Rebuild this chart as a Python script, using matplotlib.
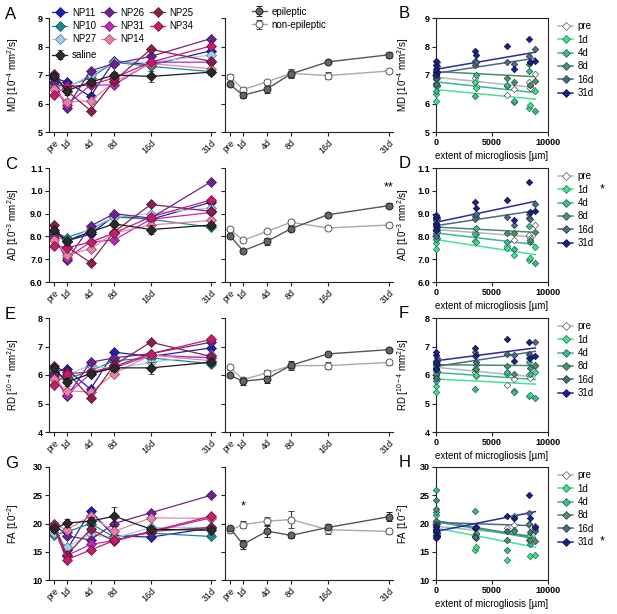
import numpy as np
import matplotlib
matplotlib.use('Agg')
import matplotlib.pyplot as plt
import matplotlib.colors as mcolors
from matplotlib.lines import Line2D

plt.rcParams['font.family'] = ['Liberation Sans', 'DejaVu Sans']
plt.rcParams['mathtext.fontset'] = 'custom'
plt.rcParams['mathtext.rm'] = 'Liberation Sans'
plt.rcParams['mathtext.it'] = 'Liberation Sans:italic'
plt.rcParams['mathtext.bf'] = 'Liberation Sans:bold'

# ---- data -------------------------------------------------------------
timepoints = ['pre', '1d', '4d', '8d', '16d', '31d']
time_pos = [0, 13, 37, 61, 98, 159]   # spacing of the time axis as in the figure

animals = ['NP11', 'NP10', 'NP27', 'NP26', 'NP31', 'NP14', 'NP25', 'NP34']
animal_colors = ['#2020b0', '#1d8a8f', '#a3cbea', '#6b2390',
                 '#b52bb8', '#ea80a8', '#8a1f4f', '#c41d6c']
extent_um = [3450, 100, 3600, 8280, 8430, 6970, 8870, 6300]

# MD [10^-4 mm2/s]
md_animals = [[6.90, 6.75, 6.25, 7.50, 7.35, 7.85],
              [6.65, 6.60, 6.90, 7.45, 7.30, 7.12],
              [6.60, 6.55, 7.00, 7.45, 7.45, 7.70],
              [6.75, 5.85, 7.15, 7.40, 7.65, 8.28],
              [6.55, 5.95, 6.65, 6.65, 7.45, 7.45],
              [6.50, 6.05, 6.10, 6.75, 7.40, 7.22],
              [7.05, 6.45, 5.75, 6.80, 7.90, 7.48],
              [6.30, 6.60, 6.65, 6.90, 7.45, 8.02]]
md_saline = [6.95, 6.45, 6.75, 7.00, 6.95, 7.10]
md_saline_err = [0.10, 0.15, 0.10, 0.10, 0.20, 0.10]
md_saline_indiv = [[7.10, 6.95, 6.85, 6.70], [6.10, 6.35, 6.60, 6.70],
                   [6.45, 6.70, 6.85, 6.95], [6.90, 7.00, 7.10, 7.05],
                   [6.70, 6.90, 7.15, 7.05], [7.00, 7.20, 7.35, 7.50]]
md_epi = [6.67, 6.29, 6.51, 7.04, 7.46, 7.71]
md_epi_err = [0.07, 0.10, 0.15, 0.10, 0.07, 0.10]
md_non = [6.94, 6.49, 6.76, 7.06, 6.98, 7.14]
md_non_err = [0.08, 0.08, 0.08, 0.15, 0.12, 0.07]
md_fit_start = [6.92, 6.49, 6.76, 7.12, 7.06, 7.20]
md_fit_end = [6.56, 6.15, 6.38, 6.94, 7.59, 7.80]

# AD [10^-3 mm2/s] (axis labelled 6.0 ... 9.0, 1.0, 1.1)
ad_animals = [[8.20, 7.80, 8.10, 8.90, 8.75, 9.50],
              [8.20, 7.95, 8.30, 8.85, 8.75, 8.40],
              [8.10, 7.75, 8.35, 8.85, 9.00, 9.25],
              [8.05, 6.95, 8.45, 9.00, 8.80, 10.40],
              [7.95, 7.05, 7.75, 7.85, 8.75, 9.05],
              [7.85, 7.20, 7.45, 8.15, 8.50, 8.70],
              [8.50, 7.55, 6.85, 8.20, 9.40, 9.10],
              [7.60, 7.50, 7.75, 8.15, 8.85, 9.60]]
ad_saline = [8.30, 7.80, 8.20, 8.55, 8.30, 8.50]
ad_saline_err = [0.10, 0.10, 0.10, 0.12, 0.20, 0.10]
ad_saline_indiv = [[8.00, 8.30, 8.55, 8.40], [7.45, 7.70, 7.90, 8.05],
                   [7.90, 8.15, 8.30, 8.45], [8.30, 8.50, 8.70, 8.75],
                   [8.00, 8.30, 8.60, 8.80], [8.30, 8.55, 8.85, 8.95]]
ad_epi = [8.03, 7.37, 7.78, 8.34, 8.95, 9.35]
ad_epi_err = [0.08, 0.08, 0.15, 0.12, 0.08, 0.12]
ad_non = [8.32, 7.83, 8.22, 8.62, 8.37, 8.50]
ad_non_err = [0.10, 0.08, 0.08, 0.10, 0.10, 0.05]
ad_fit_start = [8.30, 7.86, 8.15, 8.41, 8.47, 8.62]
ad_fit_end = [7.97, 7.20, 7.64, 8.18, 9.13, 9.54]

# RD [10^-4 mm2/s]
rd_animals = [[6.10, 6.20, 5.50, 6.80, 6.65, 6.95],
              [6.10, 5.85, 6.15, 6.50, 6.60, 6.40],
              [5.95, 6.00, 6.35, 6.20, 6.45, 6.70],
              [6.00, 5.25, 6.45, 6.60, 6.75, 7.15],
              [5.90, 5.30, 6.05, 6.25, 6.70, 6.60],
              [5.85, 5.45, 5.40, 6.05, 6.70, 6.50],
              [6.30, 6.10, 5.20, 6.35, 7.15, 6.65],
              [5.65, 6.05, 6.10, 6.30, 6.75, 7.25]]
rd_saline = [6.25, 5.75, 6.05, 6.25, 6.25, 6.45]
rd_saline_err = [0.10, 0.15, 0.10, 0.10, 0.20, 0.10]
rd_saline_indiv = [[6.00, 6.25, 6.40, 6.35], [5.40, 5.60, 5.90, 6.00],
                   [5.80, 6.00, 6.15, 6.25], [6.05, 6.25, 6.40, 6.35],
                   [5.90, 6.20, 6.50, 6.45], [6.20, 6.45, 6.70, 6.80]]
rd_epi = [5.99, 5.78, 5.87, 6.34, 6.74, 6.89]
rd_epi_err = [0.05, 0.12, 0.15, 0.15, 0.08, 0.07]
rd_non = [6.27, 5.84, 6.07, 6.33, 6.33, 6.44]
rd_non_err = [0.08, 0.10, 0.10, 0.10, 0.12, 0.08]
rd_fit_start = [6.27, 5.86, 6.09, 6.36, 6.30, 6.50]
rd_fit_end = [5.93, 5.68, 5.84, 6.33, 6.83, 6.95]

# FA [10^-2]
fa_animals = [[19.2, 15.3, 22.2, 17.8, 17.6, 19.2],
              [18.0, 18.5, 20.0, 17.6, 18.3, 17.7],
              [18.3, 15.8, 18.1, 17.4, 19.3, 19.3],
              [20.0, 17.8, 17.1, 20.0, 21.9, 25.0],
              [19.6, 14.3, 16.3, 17.0, 18.5, 21.0],
              [19.8, 18.9, 21.3, 18.6, 21.0, 20.9],
              [19.5, 14.4, 19.0, 16.9, 18.6, 19.3],
              [19.2, 13.6, 15.3, 17.0, 18.6, 21.3]]
fa_saline = [19.0, 20.1, 20.4, 21.3, 19.0, 18.8]
fa_saline_err = [0.5, 0.7, 0.7, 1.7, 0.6, 0.4]
fa_saline_indiv = [[18.5, 19.0, 19.5, 18.9], [19.0, 20.2, 21.5, 20.0],
                   [18.8, 20.4, 22.0, 26.0], [18.0, 20.5, 24.2, 22.5],
                   [17.8, 18.9, 20.0, 19.3], [17.5, 18.5, 19.6, 18.9]]
fa_epi = [19.2, 16.3, 18.65, 17.9, 19.3, 21.2]
fa_epi_err = [0.4, 0.8, 1.0, 0.4, 0.6, 0.8]
fa_non = [18.8, 19.8, 20.4, 20.7, 18.9, 18.6]
fa_non_err = [0.4, 0.6, 0.8, 1.5, 0.7, 0.5]
fa_fit_start = [19.5, 19.2, 20.3, 20.5, 20.2, 18.6]
fa_fit_end = [17.8, 15.8, 17.3, 17.5, 19.6, 22.1]

time_fill = ['white', '#3fe090', '#3fb79a', '#4f8f70', '#4a6d85', '#1c1f8c']
time_line = ['#b5b5b5', '#45e295', '#3ab59a', '#4a8a70', '#4a6b80', '#2a2aa0']

rows = [
    dict(letters=('A', 'B'), label='MD [10$^{-4}$ mm$^{2}$/s]', ylim=(5, 9),
         yticks=[5, 6, 7, 8, 9], yticklabels=['5', '6', '7', '8', '9'],
         animals=md_animals, saline=md_saline, saline_err=md_saline_err,
         indiv=md_saline_indiv, epi=md_epi, epi_err=md_epi_err,
         non=md_non, non_err=md_non_err, fs=md_fit_start, fe=md_fit_end),
    dict(letters=('C', 'D'), label='AD [10$^{-3}$ mm$^{2}$/s]', ylim=(6, 11),
         yticks=[6, 7, 8, 9, 10, 11],
         yticklabels=['6.0', '7.0', '8.0', '9.0', '1.0', '1.1'],
         animals=ad_animals, saline=ad_saline, saline_err=ad_saline_err,
         indiv=ad_saline_indiv, epi=ad_epi, epi_err=ad_epi_err,
         non=ad_non, non_err=ad_non_err, fs=ad_fit_start, fe=ad_fit_end),
    dict(letters=('E', 'F'), label='RD [$^{10-4}$ mm$^{2}$/s]', ylim=(4, 8),
         yticks=[4, 5, 6, 7, 8], yticklabels=['4', '5', '6', '7', '8'],
         animals=rd_animals, saline=rd_saline, saline_err=rd_saline_err,
         indiv=rd_saline_indiv, epi=rd_epi, epi_err=rd_epi_err,
         non=rd_non, non_err=rd_non_err, fs=rd_fit_start, fe=rd_fit_end),
    dict(letters=('G', 'H'), label='FA [10$^{-2}$]', ylim=(10, 30),
         yticks=[10, 15, 20, 25, 30], yticklabels=['10', '15', '20', '25', '30'],
         animals=fa_animals, saline=fa_saline, saline_err=fa_saline_err,
         indiv=fa_saline_indiv, epi=fa_epi, epi_err=fa_epi_err,
         non=fa_non, non_err=fa_non_err, fs=fa_fit_start, fe=fa_fit_end),
]


def darker(c, f=0.55):
    r, g, b = mcolors.to_rgb(c)
    return (r * f, g * f, b * f)


W, H = 617, 614
fig = plt.figure(figsize=(W / 100, H / 100), dpi=100)

row_top = [18, 168, 318, 467]
row_h = [114, 114, 114, 113]
ink = '#222222'
tick_fs = 6.5
lab_fs = 7


def box(x0, x1, top, h):
    return [x0 / W, 1 - (top + h) / H, (x1 - x0) / W, h / H]


def style(ax, full=False):
    for s in ['left', 'bottom', 'top', 'right']:
        ax.spines[s].set_color(ink)
        ax.spines[s].set_linewidth(0.8)
    if not full:
        ax.spines['top'].set_visible(False)
        ax.spines['right'].set_visible(False)
    ax.tick_params(direction='out', length=3, width=0.8, color=ink,
                   labelsize=tick_fs, pad=1.5)


for r, row in enumerate(rows):
    top, h = row_top[r], row_h[r]
    axl = fig.add_axes(box(49, 215, top, h))
    axm = fig.add_axes(box(225, 393, top, h))
    axr = fig.add_axes(box(436, 548, top, h))

    # --- left: individual animals + saline mean
    for i, name in enumerate(animals):
        c = animal_colors[i]
        axl.plot(time_pos, row['animals'][i], color=c, lw=0.9, marker='D',
                 ms=4.6, mfc=c, mec=darker(c), mew=0.5, label=name,
                 clip_on=False)
    axl.errorbar(time_pos, row['saline'], yerr=row['saline_err'],
                 color='#1a1a1a', lw=0.9, marker='D', ms=4.6, mfc='#2a2a2a',
                 mec='#111111', mew=0.5, capsize=2, elinewidth=0.8,
                 capthick=0.8, label='saline', clip_on=False)

    # --- middle: epileptic vs non-epileptic
    axm.errorbar(time_pos, row['non'], yerr=row['non_err'], color='#aaaaaa',
                 lw=1.0, marker='o', ms=5, mfc='white', mec='#555555', mew=0.7,
                 ecolor='#444444', capsize=2, elinewidth=0.8, capthick=0.8,
                 label='non-epileptic', clip_on=False)
    axm.errorbar(time_pos, row['epi'], yerr=row['epi_err'], color='#555555',
                 lw=1.0, marker='o', ms=5, mfc='#666666', mec='#222222',
                 mew=0.7, ecolor='#222222', capsize=2, elinewidth=0.8,
                 capthick=0.8, label='epileptic', clip_on=False)

    for ax in (axl, axm):
        style(ax)
        ax.set_xlim(-5, 163)
        ax.set_ylim(*row['ylim'])
        ax.set_yticks(row['yticks'])
        ax.set_xticks(time_pos)
        ax.set_xticklabels(timepoints, rotation=45, ha='right',
                           rotation_mode='anchor', fontsize=tick_fs)
    axl.set_yticklabels(row['yticklabels'], fontweight='bold')
    axm.set_yticklabels([])
    axl.set_ylabel(row['label'], fontsize=lab_fs)
    axl.yaxis.set_label_coords(-0.17, 0.5)

    # --- right: DTI value vs extent of microgliosis
    for t in range(len(timepoints)):
        xs = extent_um + [0] * len(row['indiv'][t])
        ys = [row['animals'][i][t] for i in range(len(animals))] + row['indiv'][t]
        axr.plot([0, max(extent_um)], [row['fs'][t], row['fe'][t]],
                 color=time_line[t], lw=1.1, zorder=2)
        edge = '#555555' if t == 0 else darker(time_fill[t], 0.5)
        axr.scatter(xs, ys, marker='D', s=11, c=time_fill[t], edgecolors=edge,
                    linewidths=0.5, zorder=3, clip_on=False)
    style(axr, full=True)
    axr.set_xlim(0, 10000)
    axr.set_ylim(*row['ylim'])
    axr.set_yticks(row['yticks'])
    axr.set_yticklabels(row['yticklabels'], fontweight='bold')
    axr.set_xticks([0, 5000, 10000])
    axr.set_xticklabels(['0', '5000', '10000'], fontweight='bold')
    axr.set_ylabel(row['label'], fontsize=lab_fs)
    axr.yaxis.set_label_coords(-0.225, 0.5)
    axr.set_xlabel('extent of microgliosis [µm]', fontsize=lab_fs)
    axr.xaxis.set_label_coords(0.5, -0.17)

    handles = []
    for t, tp in enumerate(timepoints):
        edge = '#555555' if t == 0 else darker(time_fill[t], 0.5)
        handles.append(Line2D([], [], color=time_line[t], lw=1.1, marker='D',
                              ms=3.8, mfc=time_fill[t], mec=edge, mew=0.5,
                              label=tp))
    axr.legend(handles=handles, loc='upper left', bbox_to_anchor=(1.09, 0.97),
               frameon=False, fontsize=lab_fs, borderpad=0, borderaxespad=0,
               handlelength=1.55, handletextpad=0.45, labelspacing=0.34)

    # panel letters
    fig.text(5 / W, 1 - (top - 11) / H, row['letters'][0], fontsize=12,
             va='top', ha='left')
    fig.text(399 / W, 1 - (top - 12) / H, row['letters'][1], fontsize=12,
             va='top', ha='left')

    if r == 0:
        hl, ll = axl.get_legend_handles_labels()
        leg1 = axl.legend(hl[:8], ll[:8], ncol=3, loc='upper left',
                          bbox_to_anchor=(0.02, 1.09), frameon=False,
                          fontsize=lab_fs, borderpad=0, borderaxespad=0,
                          handlelength=1.55, handletextpad=0.45,
                          labelspacing=0.33, columnspacing=0.55)
        axl.add_artist(leg1)
        axl.legend(hl[8:], ll[8:], loc='upper left',
                   bbox_to_anchor=(0.02, 0.72), frameon=False,
                   fontsize=lab_fs, borderpad=0, borderaxespad=0,
                   handlelength=1.55, handletextpad=0.45)
        hm, lm = axm.get_legend_handles_labels()
        axm.legend(hm[::-1], lm[::-1], loc='upper left',
                   bbox_to_anchor=(0.16, 1.10), frameon=False,
                   fontsize=lab_fs, borderpad=0, borderaxespad=0,
                   handlelength=1.55, handletextpad=0.45, labelspacing=0.33)
    if r == 1:
        axm.text(time_pos[5], 9.9, '**', ha='center', va='bottom',
                 fontsize=9)
        axr.text(1.48, 0.81, '*', transform=axr.transAxes, ha='center',
                 va='center', fontsize=9)
    if r == 3:
        axm.text(time_pos[1], 22.0, '*', ha='center', va='bottom', fontsize=9)
        axr.text(1.48, 0.34, '*', transform=axr.transAxes, ha='center',
                 va='center', fontsize=9)

fig.savefig('out.png', dpi=100)
